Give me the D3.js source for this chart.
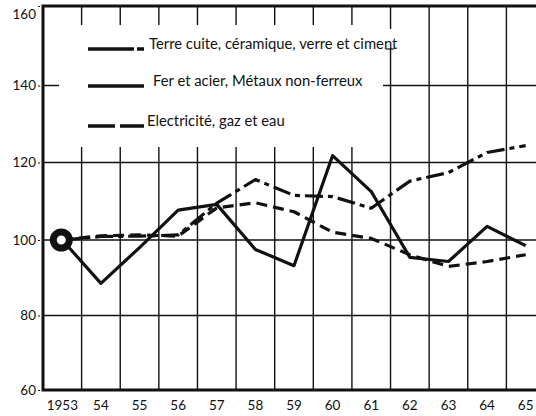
<!DOCTYPE html>
<html>
<head>
<meta charset="utf-8">
<script src="https://cdn.jsdelivr.net/npm/d3@7"></script>
<style>
  body { margin: 0; background: #fff; }
  text { font-family: Lato, "DejaVu Sans", sans-serif; fill: #111; }
</style>
</head>
<body>
<script>
// years and indices (1953 = 100)
const years = ['1953', '54', '55', '56', '57', '58', '59', '60', '61', '62', '63', '64', '65'];
const terreCuite = [100, 100.9, 101, 101.3, 109.5, 115.6, 111.5, 111.2, 108.2, 115.2, 117.4, 122.6, 124.4];
const ferAcier = [100, 88.5, 98, 107.7, 109.2, 97.5, 93.2, 121.8, 112.5, 95.4, 94.3, 103.5, 98.5];
const electricite = [100, 101.1, 101.3, 101, 108.3, 109.6, 107.3, 102, 100.4, 96.1, 93, 94.3, 96.1];
const yTicks = [60, 80, 100, 120, 140, 160];
const legendLabels = ['Terre cuite, céramique, verre et ciment', 'Fer et acier, Métaux non-ferreux', 'Electricité, gaz et eau'];

const width = 536, height = 416;

const svg = d3.select('body')
	.append('svg')
	.attr('width', width)
	.attr('height', height);

//band per year, grid lines sit on band edges
const x = d3.scaleBand()
	.domain(years)
	.range([43, 545]);

//the scan is a bit stretched, so piecewise
const y = d3.scaleLinear()
	.domain([60, 80, 100, 120, 140, 160])
	.range([390, 315.5, 240, 162.5, 85.5, 6]);

const grid = svg.append('g').attr('stroke', '#111').attr('stroke-width', 1.4);

//vertical grid
grid.selectAll('line.v')
	.data(years.slice(1))
	.enter()
	.append('line')
	.attr('x1', (d) => x(d))
	.attr('x2', (d) => x(d))
	.attr('y1', y(160))
	.attr('y2', y(60));

//horizontal grid
grid.selectAll('line.h')
	.data([80, 100, 120, 140])
	.enter()
	.append('line')
	.attr('x1', x.range()[0])
	.attr('x2', width)
	.attr('y1', (d) => y(d))
	.attr('y2', (d) => y(d));

//white area for the legend
svg.append('rect')
	.attr('x', 59).attr('y', 25)
	.attr('width', 324).attr('height', 122)
	.attr('fill', '#fff');
svg.append('rect')
	.attr('x', 385).attr('y', 29)
	.attr('width', 10).attr('height', 19)
	.attr('fill', '#fff');
svg.append('line')
	.attr('x1', 386).attr('x2', 394)
	.attr('y1', 49).attr('y2', 49)
	.attr('stroke', '#111').attr('stroke-width', 1.2);

//frame: left, top, bottom
svg.append('path')
	.attr('d', `M${width},${y(160)}H${x.range()[0]}V${y(60)}H${width}`)
	.attr('fill', 'none')
	.attr('stroke', '#111')
	.attr('stroke-width', 3);

//y labels
const yAxis = svg.append('g')
	.attr('transform', `translate(${x.range()[0] - 3},0)`)
	.call(d3.axisLeft(y).tickValues(yTicks).tickSize(2).tickPadding(2));
yAxis.select('.domain').remove();
yAxis.selectAll('text').style('font-size', '13.5px').style('font-family', 'Lato, sans-serif').attr('fill', '#111');
yAxis.selectAll('line').attr('stroke', '#111');
//top label sits a little lower, as in the print
yAxis.selectAll('.tick').filter((d) => d === 160).select('text').attr('dy', '0.95em');

//x labels
const xAxis = svg.append('g')
	.attr('transform', `translate(0,${y(60)})`)
	.call(d3.axisBottom(x).tickSize(0).tickPadding(10));
xAxis.select('.domain').remove();
xAxis.selectAll('text').style('font-size', '13.5px').style('font-family', 'Lato, sans-serif').attr('fill', '#111');

const line = d3.line()
	.x((d, i) => x(years[i]) + x.bandwidth() / 2)
	.y((d) => y(d));

const series = [
	{ values: electricite, dash: '11,6' },
	{ values: terreCuite, dash: '18,5,5,5' },
	{ values: ferAcier, dash: null }
];

svg.selectAll('path.series')
	.data(series)
	.enter()
	.append('path')
	.attr('d', (d) => line(d.values))
	.attr('fill', 'none')
	.attr('stroke', '#111')
	.attr('stroke-width', 3.2)
	.attr('stroke-linejoin', 'round')
	.attr('stroke-dasharray', (d) => d.dash);

//start marker at 1953
svg.append('circle')
	.attr('cx', x(years[0]) + x.bandwidth() / 2 - 1)
	.attr('cy', y(100))
	.attr('r', 8)
	.attr('fill', '#fff')
	.attr('stroke', '#111')
	.attr('stroke-width', 7);

//legend
const legend = [
	{ label: legendLabels[0], y: 49, dash: '46,3,8,100', tx: 149 },
	{ label: legendLabels[1], y: 86, dash: null, tx: 153 },
	{ label: legendLabels[2], y: 126, dash: '27,5,25,100', tx: 147 }
];
const lg = svg.selectAll('g.legend')
	.data(legend)
	.enter()
	.append('g');
lg.append('line')
	.attr('x1', 88).attr('x2', 144)
	.attr('y1', (d) => d.y).attr('y2', (d) => d.y)
	.attr('stroke', '#111')
	.attr('stroke-width', 3.5)
	.attr('stroke-dasharray', (d) => d.dash);
lg.append('text')
	.attr('x', (d) => d.tx)
	.attr('y', (d) => d.y)
	.attr('font-size', 14.8)
	.text((d) => d.label);
</script>
</body>
</html>
